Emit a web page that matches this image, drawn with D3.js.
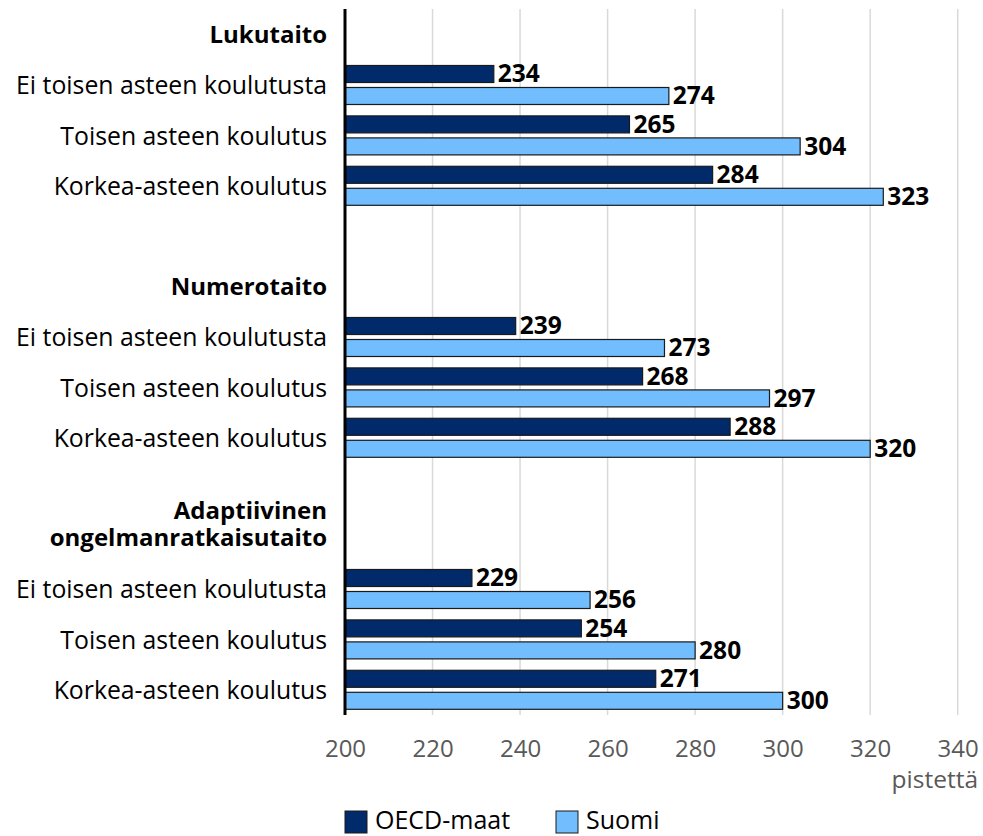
<!DOCTYPE html>
<html>
<head>
<meta charset="utf-8">
<script src="https://cdn.jsdelivr.net/npm/d3@7"></script>
<style>
  body { margin: 0; background: #fff; }
  svg { display: block; font-family: "Open Sans", "Noto Sans", sans-serif; }
  .cat { font-size: 24.8px; fill: #000; }
  .head { font-size: 24px; font-weight: bold; fill: #000; }
  .val { font-size: 24.5px; font-weight: bold; fill: #000; }
  .tick text { font-size: 24px; fill: #595959; }
</style>
</head>
<body>
<svg id="chart" width="983" height="836"></svg>
<script>
// data
var sections = ["Lukutaito", "Numerotaito", "Adaptiivinen ongelmanratkaisutaito"];
var levels = ["Ei toisen asteen koulutusta", "Toisen asteen koulutus", "Korkea-asteen koulutus"];
var seriesNames = ["OECD-maat", "Suomi"];
var oecd = [234, 265, 284, 239, 268, 288, 229, 254, 271];
var suomi = [274, 304, 323, 273, 297, 320, 256, 280, 300];
var xTicks = [200, 220, 240, 260, 280, 300, 320, 340];
var colors = ["#012a6b", "#72bdfd"];

var svg = d3.select("#chart");

// rows: header, 3 levels, blank between sections
var rows = [];
sections.forEach(function(s, si){
    if (si > 0) rows.push({type: "blank", key: "b" + si});
    rows.push({type: "head", key: "h" + si, label: s});
    levels.forEach(function(l, li){
        rows.push({type: "bar", key: "r" + si + "_" + li, label: l, vals: [oecd[si*3+li], suomi[si*3+li]]});
    });
});

var x = d3.scaleLinear().domain([200, 340]).range([345, 957.7]);
var y = d3.scaleBand().domain(rows.map(d => d.key)).range([9.4, 715]);
var inner = d3.scaleBand().domain([0, 1]).range([5.7, 44.7]).paddingInner(0.227);

// gridlines
svg.append("g").selectAll("line")
    .data(xTicks.slice(1))
    .enter().append("line")
    .attr("x1", d => x(d)).attr("x2", d => x(d))
    .attr("y1", 9).attr("y2", 715)
    .attr("stroke", "#d9d9d9").attr("stroke-width", 1.5);

// x axis (tick labels only)
var xAxis = svg.append("g")
    .attr("transform", "translate(0,715)")
    .call(d3.axisBottom(x).tickValues(xTicks).tickSize(0).tickPadding(25));
xAxis.select(".domain").remove();
xAxis.attr("font-family", null).attr("font-size", null);

svg.append("text")
    .attr("x", 978).attr("y", 788)
    .attr("text-anchor", "end")
    .attr("font-size", 24.5).attr("fill", "#595959")
    .text("pistettä");

// bars
var barRows = rows.filter(d => d.type == "bar");
var gRow = svg.append("g").selectAll("g")
    .data(barRows)
    .enter().append("g")
    .attr("transform", d => `translate(0, ${y(d.key)})`);

gRow.selectAll("rect")
    .data(d => d.vals)
    .enter().append("rect")
    .attr("x", x(200))
    .attr("y", (d, i) => inner(i))
    .attr("width", d => x(d) - x(200))
    .attr("height", inner.bandwidth())
    .attr("fill", (d, i) => colors[i])
    .attr("stroke", "#1a1a1a").attr("stroke-width", 1.2);

gRow.selectAll("text.val")
    .data(d => d.vals)
    .enter().append("text")
    .attr("class", "val")
    .attr("x", d => x(d) + 4)
    .attr("y", (d, i) => inner(i) + inner.bandwidth() / 2)
    .attr("dy", "0.34em")
    .text(d => d);

// category labels
gRow.append("text")
    .attr("class", "cat")
    .attr("x", 327)
    .attr("y", y.bandwidth() / 2)
    .attr("dy", "0.37em")
    .attr("text-anchor", "end")
    .text(d => d.label);

// section headers
var heads = rows.filter(d => d.type == "head");
heads.forEach(function(h, i){
    var cy = y(h.key) + y.bandwidth() / 2;
    var t = svg.append("text").attr("class", "head").attr("text-anchor", "end");
    if (i == 2) {
        t.append("tspan").attr("x", 327).attr("y", cy - 20).text("Adaptiivinen");
        t.append("tspan").attr("x", 327).attr("y", cy + 7).text("ongelmanratkaisutaito");
    } else {
        t.attr("x", 327).attr("y", cy).attr("dy", "0.36em").text(h.label);
    }
});

// y axis line
svg.append("line")
    .attr("x1", 345).attr("x2", 345)
    .attr("y1", 9).attr("y2", 715)
    .attr("stroke", "#000").attr("stroke-width", 3);

// legend
var legend = svg.append("g").selectAll("g")
    .data(seriesNames)
    .enter().append("g")
    .attr("transform", (d, i) => `translate(${i == 0 ? 345 : 556}, 811)`);
legend.append("rect")
    .attr("width", 22).attr("height", 22)
    .attr("fill", (d, i) => colors[i])
    .attr("stroke", "#1a1a1a").attr("stroke-width", 1);
legend.append("text")
    .attr("x", 30).attr("y", 11).attr("dy", "0.27em")
    .attr("font-size", 25).attr("fill", "#000")
    .text(d => d);
</script>
</body>
</html>
